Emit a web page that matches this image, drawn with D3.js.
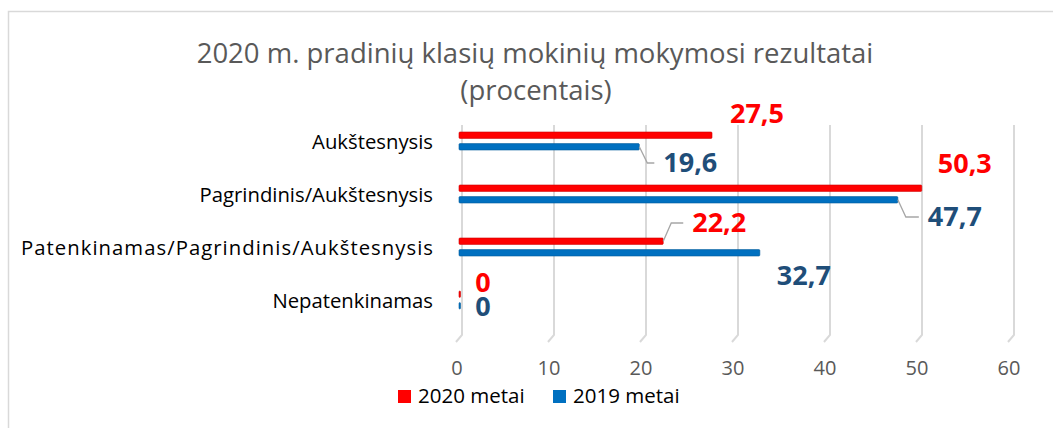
<!DOCTYPE html>
<html lang="lt">
<head>
<meta charset="UTF-8">
<title>2020 m. pradinių klasių mokinių mokymosi rezultatai</title>
<script src="https://cdn.jsdelivr.net/npm/d3@7"></script>
<style>
    body { margin: 0; background: #fff; }
    svg { font-family: "Open Sans", sans-serif; }
    .title { fill: #595959; font-size: 27.5px; }
    .cat text { fill: #000; font-size: 20.3px; }
    .axis-x text { fill: #595959; font-size: 20px; }
    .legend text { fill: #000; font-size: 20.5px; }
    .lbl { font-weight: bold; font-size: 27px; }
</style>
</head>
<body>
<div class="app"></div>
<script>
    // duomenys
    var categories = ['Aukštesnysis', 'Pagrindinis/Aukštesnysis', 'Patenkinamas/Pagrindinis/Aukštesnysis', 'Nepatenkinamas'];
    var seriesNames = ['2020 metai', '2019 metai'];
    var values2020 = [27.5, 50.3, 22.2, 0];
    var values2019 = [19.6, 47.7, 32.7, 0];
    var xTicks = [0, 10, 20, 30, 40, 50, 60];

    var colors = ['#ff0000', '#0070c0'];
    var labelColors = ['#ff0000', '#1f4e79'];

    // etikečių poslinkiai nuo stulpelio galo (dx, dy) ir ar yra linija
    var labelOffsets = [
        [[45, -18, 0], [43, -21, 0], [56, -15, 1], [24, -8, 0]],
        [[51, 31, 1], [57, 32, 1], [44, 38, 0], [24, 16, 0]]
    ];

    var width = 1053, height = 428;
    var svg = d3.select('.app').append('svg')
        .attr('width', width)
        .attr('height', height);

    // rėmelis
    svg.append('rect')
        .attr('x', 8.5).attr('y', 11.5)
        .attr('width', 1200).attr('height', 600)
        .attr('fill', 'none')
        .attr('stroke', '#d9d9d9')
        .attr('stroke-width', 1.5);

    // pavadinimas
    var title = svg.append('text').attr('class', 'title').attr('text-anchor', 'middle');
    title.append('tspan').attr('x', 535).attr('y', 63).text('2020 m. pradinių klasių mokinių mokymosi rezultatai');
    title.append('tspan').attr('x', 536).attr('y', 100).text('(procentais)');

    var x = d3.scaleLinear().domain([0, 60]).range([459, 1011]);
    var y = d3.scaleBand().domain(categories).range([114.5, 326.5]);
    var ySub = d3.scaleBand().domain(seriesNames).range([y.bandwidth() / 2 - 9, y.bandwidth() / 2 + 9]).paddingInner(0.45);

    // tinklelis (3D sienelė)
    svg.append('g').selectAll('path')
        .data(xTicks)
        .enter().append('path')
        .attr('d', function(d) {
            var gx = x(d) + 3;
            return 'M' + gx + ',125V335L' + (gx - 6) + ',342';
        })
        .attr('fill', 'none')
        .attr('stroke', '#d9d9d9')
        .attr('stroke-width', 2);

    // x ašis
    var axis = svg.append('g')
        .attr('class', 'axis-x')
        .attr('transform', 'translate(-2.5,361)')
        .call(d3.axisBottom(x).tickValues(xTicks).tickSize(0).tickPadding(0));
    axis.select('.domain').remove();
    axis.selectAll('text').attr('dy', '0.71em').style('font-family', '"Open Sans", sans-serif').style('font-size', '20px');

    // kategorijų pavadinimai
    var catLabels = svg.append('g').attr('class', 'cat').selectAll('text')
        .data(categories)
        .enter().append('text')
        .attr('x', 433)
        .attr('y', function(d) { return y(d) + y.bandwidth() / 2 + 8; })
        .attr('text-anchor', 'end')
        .text(function(d) { return d; });
    // ilgiausias pavadinimas originale platesnis - prailginam tarpais
    catLabels.filter(function(d) { return d.length > 30; })
        .attr('textLength', 412)
        .attr('lengthAdjust', 'spacing');

    // stulpeliai
    var allValues = [values2020, values2019];
    seriesNames.forEach(function(s, si) {
        var g = svg.append('g');
        var vals = allValues[si];
        g.selectAll('rect')
            .data(vals)
            .enter().append('rect')
            .attr('x', x(0))
            .attr('y', function(d, i) { return y(categories[i]) + ySub(s); })
            .attr('width', function(d) { return Math.max(1.5, x(d) - x(0)); })
            .attr('height', ySub.bandwidth())
            .attr('rx', 1)
            .attr('fill', colors[si])
            .attr('stroke', d3.color(colors[si]).darker(0.6))
            .attr('stroke-width', 0.6);

        // vedamosios linijos
        g.selectAll('path')
            .data(vals.map(function(v, i) { return {v: v, i: i}; }).filter(function(d) { return labelOffsets[si][d.i][2]; }))
            .enter().append('path')
            .attr('d', function(d) {
                var o = labelOffsets[si][d.i];
                var x0 = x(d.v), y0 = y(categories[d.i]) + ySub(s) + ySub.bandwidth() / 2;
                var ly = y(categories[d.i]) + y.bandwidth() / 2 + o[1] - 9;
                return 'M' + x0 + ',' + y0 + 'L' + (x0 + 8) + ',' + ly + 'H' + (x0 + o[0] - 36);
            })
            .attr('fill', 'none')
            .attr('stroke', '#a6a6a6')
            .attr('stroke-width', 1.3);

        // reikšmių etiketės
        g.selectAll('text')
            .data(vals)
            .enter().append('text')
            .attr('class', 'lbl')
            .attr('x', function(d, i) { return x(d) + labelOffsets[si][i][0]; })
            .attr('y', function(d, i) { return y(categories[i]) + y.bandwidth() / 2 + labelOffsets[si][i][1]; })
            .attr('text-anchor', 'middle')
            .attr('fill', labelColors[si])
            .text(function(d) { return String(d).replace('.', ','); });
    });

    // legenda
    var legendX = [398, 553];
    var legend = svg.append('g').attr('class', 'legend');
    seriesNames.forEach(function(s, i) {
        legend.append('rect')
            .attr('x', legendX[i]).attr('y', 390)
            .attr('width', 13).attr('height', 13)
            .attr('fill', colors[i]);
        legend.append('text')
            .attr('x', legendX[i] + 20).attr('y', 403)
            .text(s);
    });
</script>
</body>
</html>
